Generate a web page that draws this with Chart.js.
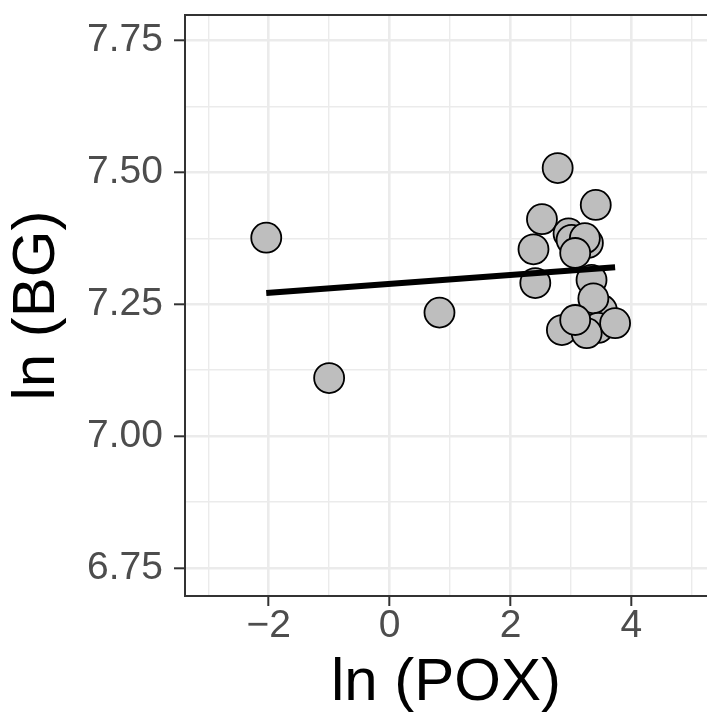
<!DOCTYPE html>
<html>
<head>
<meta charset="utf-8">
<script src="https://cdn.jsdelivr.net/npm/chart.js@4/dist/chart.umd.min.js"></script>
<style>
  html, body { margin: 0; padding: 0; background: #fff; }
  canvas { display: block; }
</style>
</head>
<body>
<canvas id="c" width="707" height="713"></canvas>
<script>
const poxX = [-2.04, -1.00, 0.825, 2.78, 3.41, 2.52, 2.96, 3.01, 3.28, 3.23, 2.38, 3.07,
              2.41, 3.34, 3.51, 3.37, 3.45, 2.85, 3.26, 3.07, 3.73];
const bgY  = [7.376, 7.110, 7.234, 7.508, 7.438, 7.411, 7.384, 7.372, 7.366, 7.375, 7.354, 7.347,
              7.290, 7.296, 7.239, 7.261, 7.205, 7.201, 7.195, 7.220, 7.214];

// fitted line end points
const fitX = [-2.04, 3.73];
const fitY = [7.271, 7.320];

const xMajor = [-2, 0, 2, 4];
const xMinor = [-3, -1, 1, 3, 5];
const yMajor = [6.75, 7.00, 7.25, 7.50, 7.75];
const yMinor = [6.875, 7.125, 7.375, 7.625];

const FONT = "'Liberation Sans', Arial, sans-serif";
const isMajor = (list, v) => list.some(m => Math.abs(m - v) < 1e-6);
const minus = s => String(s).replace("-", "\u2212");

const panelBorder = {
  id: "panelBorder",
  afterDatasetsDraw(chart) {
    const { ctx, chartArea: a } = chart;
    ctx.save();
    ctx.strokeStyle = "#333333";
    ctx.lineWidth = 2;
    ctx.beginPath();
    ctx.moveTo(a.right + 2, a.top);
    ctx.lineTo(a.left, a.top);
    ctx.lineTo(a.left, a.bottom);
    ctx.lineTo(a.right + 2, a.bottom);
    ctx.stroke();
    ctx.restore();
  }
};

new Chart(document.getElementById("c").getContext("2d"), {
  type: "scatter",
  data: {
    datasets: [{
      type: "line",
      data: fitX.map((x, i) => ({ x, y: fitY[i] })),
      borderColor: "#000",
      borderWidth: 6,
      borderCapStyle: "butt",
      pointRadius: 0,
      fill: false,
      tension: 0,
    }, {
      data: poxX.map((x, i) => ({ x, y: bgY[i] })),
      backgroundColor: "#bebebe",
      borderColor: "#000",
      borderWidth: 1.8,
      pointRadius: 15,
      pointHoverRadius: 15,
    }]
  },
  options: {
    responsive: false,
    animation: false,
    layout: { autoPadding: false, padding: { top: 15, right: 0, left: 0, bottom: 0 } },
    plugins: { legend: { display: false }, tooltip: { enabled: false } },
    scales: {
      x: {
        type: "linear",
        min: -3.384,
        max: 5.25,
        afterBuildTicks: s => { s.ticks = [...xMinor, ...xMajor].sort((a, b) => a - b).map(v => ({ value: v })); },
        afterFit: s => { s.height = 117; s.paddingLeft = 0; s.paddingRight = 0; },
        ticks: {
          autoSkip: false,
          maxRotation: 0,
          padding: 1,
          color: "#4d4d4d",
          font: { family: FONT, size: 39, lineHeight: 1 },
          callback: v => isMajor(xMajor, v) ? minus(v) : "",
        },
        grid: {
          color: "#ebebeb",
          lineWidth: c => isMajor(xMajor, c.tick.value) ? 2.6 : 1.4,
          tickColor: c => isMajor(xMajor, c.tick.value) ? "#333333" : "rgba(0,0,0,0)",
          tickWidth: 2,
          tickLength: 10,
        },
        border: { display: false },
        title: {
          display: true,
          text: "ln (POX)",
          color: "#000",
          padding: 0,
          font: { family: FONT, size: 60, lineHeight: 1 },
        },
      },
      y: {
        type: "linear",
        min: 6.697,
        max: 7.798,
        afterBuildTicks: s => { s.ticks = [...yMinor, ...yMajor].sort((a, b) => a - b).map(v => ({ value: v })); },
        afterFit: s => { s.width = 185; s.paddingTop = 0; s.paddingBottom = 0; },
        ticks: {
          autoSkip: false,
          padding: 11,
          color: "#4d4d4d",
          font: { family: FONT, size: 39, lineHeight: 1 },
          callback: v => isMajor(yMajor, v) ? Number(v).toFixed(2) : "",
        },
        grid: {
          color: "#ebebeb",
          lineWidth: c => isMajor(yMajor, c.tick.value) ? 2.6 : 1.4,
          tickColor: c => isMajor(yMajor, c.tick.value) ? "#333333" : "rgba(0,0,0,0)",
          tickWidth: 2,
          tickLength: 11,
        },
        border: { display: false },
        title: {
          display: true,
          text: "ln (BG)",
          color: "#000",
          padding: { top: 7, bottom: 0 },
          font: { family: FONT, size: 60, lineHeight: 1 },
        },
      },
    },
  },
  plugins: [panelBorder],
});
</script>
</body>
</html>
